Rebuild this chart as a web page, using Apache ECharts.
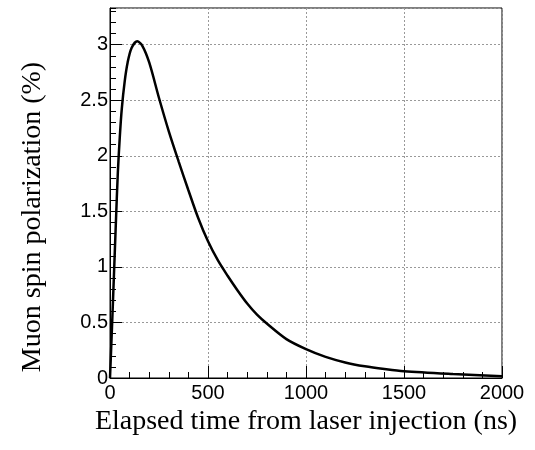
<!DOCTYPE html>
<html>
<head>
<meta charset="utf-8">
<script src="https://cdn.jsdelivr.net/npm/echarts@6/dist/echarts.min.js"></script>
<style>html,body{margin:0;padding:0;background:#fff;}#chart{width:535px;height:450px;}</style>
</head>
<body>
<div id="chart"></div>
<script>
// Data
var timeNs = [0, 10, 20, 30, 40, 50, 60, 75, 90, 110, 139, 165, 200, 250, 300, 350, 400, 450, 500, 550, 600, 650, 700, 750, 800, 900, 1000, 1100, 1200, 1300, 1400, 1500, 1750, 2000];
var polarization = [0, 0.45, 0.92, 1.40, 1.85, 2.17, 2.42, 2.67, 2.84, 2.97, 3.03, 2.99, 2.84, 2.52, 2.22, 1.95, 1.69, 1.44, 1.23, 1.06, 0.92, 0.79, 0.67, 0.57, 0.49, 0.35, 0.26, 0.19, 0.14, 0.105, 0.08, 0.06, 0.035, 0.015];
var xTicks = [0, 500, 1000, 1500, 2000];
var yTicks = [0, 0.5, 1, 1.5, 2, 2.5, 3];
var xTitle = 'Elapsed time from laser injection (ns)';
var yTitle = 'Muon spin polarization (%)';

var chart = echarts.init(document.getElementById('chart'));
var pts = timeNs.map(function (t, i) { return [t, polarization[i]]; });
var labelFont = { fontFamily: 'Liberation Sans, Arial, sans-serif', fontSize: 20, color: '#000' };

chart.setOption({
  animation: false,
  grid: { left: 110, right: 33, top: 8, bottom: 72, show: true, borderColor: '#000', borderWidth: 1, backgroundColor: 'transparent' },
  xAxis: [{
    type: 'value', min: 0, max: 2000, interval: 500,
    name: xTitle, nameLocation: 'middle', nameGap: 30,
    nameTextStyle: { fontFamily: 'Liberation Serif, Times New Roman, serif', fontSize: 28, color: '#000' },
    axisLine: { show: true, lineStyle: { color: '#000', width: 1 } },
    axisTick: { show: true, inside: true, length: 12, lineStyle: { color: '#000' } },
    minorTick: { show: true, splitNumber: 5, length: 6, lineStyle: { color: '#000' } },
    axisLabel: Object.assign({ margin: 5, formatter: function (v) { return xTicks.indexOf(v) >= 0 ? String(v) : ''; } }, labelFont),
    splitLine: { show: true, lineStyle: { color: '#999', type: [2, 2], width: 1 } }
  }],
  yAxis: [{
    type: 'value', min: 0, max: 3.33, interval: 0.5,
    axisLine: { show: true, lineStyle: { color: '#000', width: 1 } },
    axisTick: { show: true, inside: true, length: 12, lineStyle: { color: '#000' } },
    axisLabel: Object.assign({ margin: 2, showMaxLabel: false, formatter: function (v) { return yTicks.indexOf(v) >= 0 ? String(v) : ''; } }, labelFont),
    splitLine: { show: true, lineStyle: { color: '#999', type: [2, 2], width: 1 } }
  }, {
    type: 'value', min: 0, max: 3.33, interval: 0.1, position: 'left',
    axisLine: { show: false },
    axisTick: { show: true, inside: true, length: 6, lineStyle: { color: '#000' } },
    axisLabel: { show: false },
    splitLine: { show: false }
  }],
  series: [{
    type: 'line', data: pts, xAxisIndex: 0, yAxisIndex: 0,
    showSymbol: false, smooth: 0.3,
    lineStyle: { color: '#000', width: 2.5 }
  }],
  graphic: [{
    type: 'text', x: 33, y: 217, rotation: Math.PI / 2,
    style: { text: yTitle, font: '28px "Liberation Serif", "Times New Roman", serif', fill: '#000', align: 'center', verticalAlign: 'middle' }
  }]
});
</script>
</body>
</html>
